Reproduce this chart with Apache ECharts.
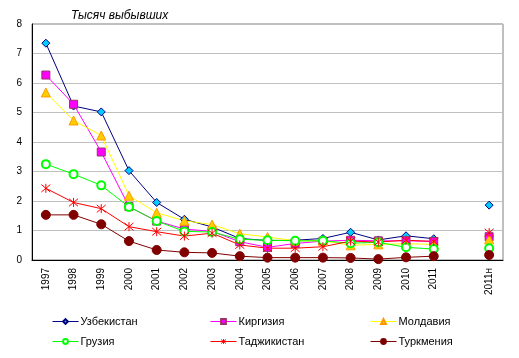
<!DOCTYPE html>
<html>
<head>
<meta charset="utf-8">
<script src="https://cdn.jsdelivr.net/npm/echarts@6/dist/echarts.min.js"></script>
<style>html,body{margin:0;padding:0;background:#fff}#c{width:519px;height:358px}</style>
</head>
<body>
<div id="c"></div>
<script>
var categories = ['1997','1998','1999','2000','2001','2002','2003','2004','2005','2006','2007','2008','2009','2010','2011','','2011н'];
var yTicks = [0,1,2,3,4,5,6,7,8];
var uzbekistan = [7.35,5.22,5.02,3.03,1.95,1.38,1.12,0.73,0.66,0.67,0.73,0.94,0.68,0.82,0.72,null,1.86];
var kirgizia   = [6.27,5.28,3.66,1.81,1.32,1.05,0.97,0.62,0.43,0.56,0.64,0.67,0.65,0.65,0.63,null,0.79];
var moldavia   = [5.68,4.73,4.22,2.18,1.6,1.33,1.2,0.89,0.78,0.65,0.65,0.5,0.53,0.55,0.53,null,0.7];
var georgia    = [3.25,2.91,2.53,1.8,1.32,0.97,0.95,0.7,0.67,0.65,0.65,0.57,0.6,0.43,0.37,null,0.4];
var tajikistan = [2.43,1.95,1.74,1.13,0.96,0.81,0.91,0.51,0.4,0.4,0.45,0.64,0.61,0.67,0.63,null,0.93];
var turkmenia  = [1.53,1.53,1.21,0.64,0.34,0.26,0.24,0.13,0.08,0.08,0.08,0.07,0.03,0.09,0.13,null,0.17];

var names = ['Узбекистан','Киргизия','Молдавия','Грузия','Таджикистан','Туркмения'];
var font = 'Liberation Sans, Arial, sans-serif';
var star = 'path://M0,0L10,10M10,0L0,10M5,-1L5,11';

function mk(name, data, lineColor, symbol, size, fill, border, bw) {
  return {
    name: name, type: 'line', data: data, connectNulls: false,
    symbol: symbol, symbolSize: size, showAllSymbol: true, animation: false,
    lineStyle: {color: lineColor, width: 1},
    itemStyle: {color: fill, borderColor: border, borderWidth: bw}
  };
}

var chart = echarts.init(document.getElementById('c'), null, {renderer: 'canvas'});
var legendBase = {
  orient: 'vertical', top: 316, itemGap: 9, itemWidth: 26, itemHeight: 6, padding: 0,
  lineStyle: {width: 1},
  textStyle: {fontFamily: font, fontSize: 11, color: '#000', padding: [0, 0, 0, -3]}
};
chart.setOption({
  animation: false,
  backgroundColor: '#fff',
  title: {
    text: 'Тысяч выбывших', left: 66, top: 5,
    textStyle: {fontFamily: font, fontSize: 12, fontStyle: 'italic', fontWeight: 'normal', color: '#000'}
  },
  grid: {left: 32, right: 16, top: 24, bottom: 98, show: true, borderColor: '#808080', borderWidth: 1},
  legend: [
    Object.assign({}, legendBase, {left: 52, data: [names[0], names[3]]}),
    Object.assign({}, legendBase, {left: 210, data: [names[1], {name: names[4], itemStyle: {color: 'rgba(255,0,0,0)', borderColor: '#ff0000', borderWidth: 1}}]}),
    Object.assign({}, legendBase, {left: 370, data: [names[2], names[5]]})
  ],
  xAxis: {
    type: 'category', data: categories, boundaryGap: true,
    axisLine: {lineStyle: {color: '#000', width: 1}},
    axisTick: {show: false},
    axisLabel: {rotate: 90, interval: 0, margin: 8, fontFamily: font, fontSize: 10, color: '#000'}
  },
  yAxis: {
    type: 'value', min: yTicks[0], max: yTicks[yTicks.length-1], interval: 1,
    axisLine: {show: true, lineStyle: {color: '#000', width: 1}},
    axisTick: {show: false},
    splitLine: {lineStyle: {color: '#c0c0c0', width: 1}},
    axisLabel: {margin: 10, fontFamily: font, fontSize: 10, color: '#000'}
  },
  series: [
    mk(names[0], uzbekistan, '#000080', 'diamond', 8, '#00ccff', '#000080', 1),
    mk(names[1], kirgizia, '#ff00ff', 'rect', 8, '#ff00ff', '#993366', 1),
    mk(names[2], moldavia, '#ffff00', 'triangle', 9, '#ffcc00', '#ff9900', 1),
    mk(names[3], georgia, '#00ff00', 'emptyCircle', 8, '#00ff00', '#00ff00', 1),
    mk(names[4], tajikistan, '#ff0000', star, 9, '#ff0000', '#ff0000', 1),
    mk(names[5], turkmenia, '#800000', 'circle', 9, '#800000', '#800000', 1)
  ]
});
</script>
</body>
</html>
